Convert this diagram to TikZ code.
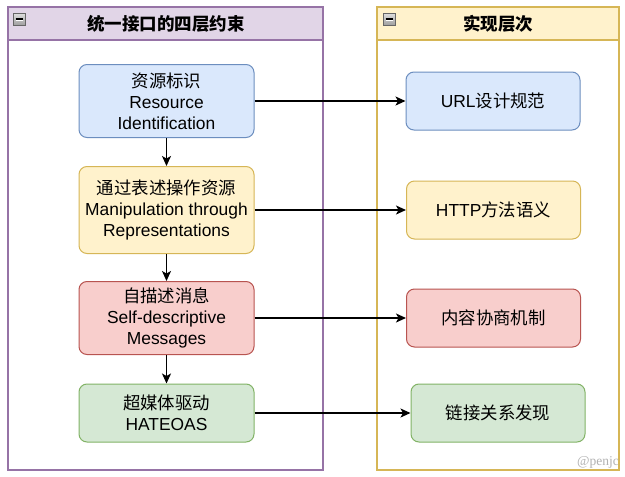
\documentclass[tikz,border=0pt]{standalone}
\usepackage{fontspec}
\setmainfont{Liberation Sans}
\newfontfamily\cjk{Noto Sans CJK SC}
\newfontfamily\markfont{Liberation Serif}
\usetikzlibrary{arrows.meta,positioning}
\definecolor{BlueFill}{HTML}{DAE8FC}
\definecolor{BlueLine}{HTML}{6C8EBF}
\definecolor{YellowFill}{HTML}{FFF2CC}
\definecolor{YellowLine}{HTML}{D6B656}
\definecolor{RedFill}{HTML}{F8CECC}
\definecolor{RedLine}{HTML}{B85450}
\definecolor{GreenFill}{HTML}{D5E8D4}
\definecolor{GreenLine}{HTML}{82B366}
\definecolor{PurpleFill}{HTML}{E1D5E7}
\definecolor{PurpleLine}{HTML}{9673A6}

\begin{document}
\begin{tikzpicture}[x=1pt,y=-1pt,
  stepbox/.style={rectangle,rounded corners=8pt,line width=1pt,minimum width=175pt,inner sep=1pt,align=center,font=\fontsize{17.4}{21}\selectfont},
  layerbox/.style={stepbox,minimum width=174pt,minimum height=58pt},
  bluebox/.style={draw=BlueLine,fill=BlueFill},
  yellowbox/.style={draw=YellowLine,fill=YellowFill},
  redbox/.style={draw=RedLine,fill=RedFill},
  greenbox/.style={draw=GreenLine,fill=GreenFill},
  lanetitle/.style={font=\fontsize{17.5}{21}\selectfont\cjk\bfseries,text=black},
  link/.style={draw=black,line width=1.3pt,-{Stealth[length=10pt,width=9pt,inset=2.5pt]}}
]
\useasboundingbox (0,0) rectangle (625,477);
\fill[white] (0,0) rectangle (625,477);
% swimlane on the left
\draw[draw=PurpleLine,line width=1.2pt] (8,7) rectangle (323,470);
\draw[draw=PurpleLine,fill=PurpleFill,line width=1.2pt] (8,7) rectangle (323,40);
\node[lanetitle] (lefttitle) at (166,23.5) {统一接口的四层约束};
% swimlane on the right
\draw[draw=YellowLine,line width=1.2pt] (377,7) rectangle (619,470);
\draw[draw=YellowLine,fill=YellowFill,line width=1.2pt] (377,7) rectangle (619,40);
\node[lanetitle] (righttitle) at (498,23.5) {实现层次};
% collapse icons
\foreach \ix in {13,383}{
  \shade[top color=gray!25,bottom color=gray!75,draw=gray!80!black,line width=0.6pt] (\ix,13) rectangle ++(12,12);
  \draw[black,line width=1.2pt] (\ix+2.5,19) -- ++(7,0);
  \draw[white,line width=0.6pt] (\ix+2.5,20.4) -- ++(7,0);
}
% constraints
\node[stepbox,bluebox,minimum height=73pt] (res) at (166.5,101) {{\cjk 资源标识}\\Resource\\Identification};
\node[stepbox,yellowbox,minimum height=87pt] (rep) at (166.5,210) {{\cjk 通过表述操作资源}\\Manipulation through\\Representations};
\node[stepbox,redbox,minimum height=73pt] (msg) at (166.5,318) {{\cjk 自描述消息}\\Self-descriptive\\Messages};
\node[stepbox,greenbox,minimum height=58pt] (hat) at (166.5,413) {{\cjk 超媒体驱动}\\HATEOAS};
% layers
\node[layerbox,bluebox] (url) at (493,101) {URL{\cjk 设计规范}};
\node[layerbox,yellowbox] (http) at (493.5,210) {HTTP{\cjk 方法语义}};
\node[layerbox,redbox] (neg) at (493.5,318) {\cjk 内容协商机制};
\node[layerbox,greenbox] (find) at (498,413) {\cjk 链接关系发现};
% arrows
\draw[link] (res) -- (rep);
\draw[link] (rep) -- (msg);
\draw[link] (msg) -- (hat);
\draw[link] (res) -- (url);
\draw[link] (rep) -- (http);
\draw[link] (msg) -- (neg);
\draw[link] (hat) -- (find);
\node[anchor=east,text=gray!60,font=\fontsize{13.5}{13.5}\markfont,inner sep=1pt] (mark) at (620,462) {@penjc};
\end{tikzpicture}
\end{document}
